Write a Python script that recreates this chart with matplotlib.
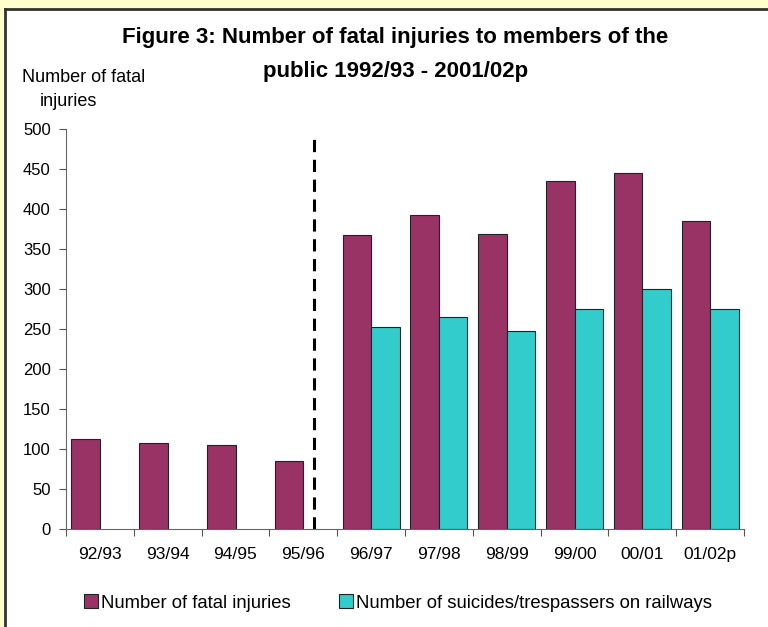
import numpy as np
import matplotlib.pyplot as plt

# Data.
years = ["92/93", "93/94", "94/95", "95/96", "96/97", "97/98", "98/99", "99/00", "00/01", "01/02p"]
fatal_injuries = [112, 107, 105, 85, 367, 392, 369, 435, 445, 385]
rail_suicides = [np.nan, np.nan, np.nan, np.nan, 252, 265, 247, 275, 300, 275]

MAGENTA = "#993366"
CYAN = "#33CCCC"
plt.rcParams['font.family'] = ['Liberation Sans', 'DejaVu Sans']

W, H = 768.0, 627.0
fig = plt.figure(figsize=(W / 100, H / 100), dpi=100)
fig.patch.set_facecolor("#FFFFCC")

# White panel with dark left/top border.
bg = fig.add_axes([5 / W, 0, 1 - 5 / W, 1 - 9 / H], zorder=-1)
bg.set_facecolor("white")
bg.set_xticks([])
bg.set_yticks([])
for side in ["right", "bottom"]:
    bg.spines[side].set_visible(False)
for side in ["left", "top"]:
    bg.spines[side].set_color("#333333")
    bg.spines[side].set_linewidth(2)

ax = fig.add_axes([66 / W, 1 - 529 / H, (744 - 66) / W, 400 / H], zorder=1)
ax.set_facecolor("none")

x = np.arange(len(years))
width = 0.42
ax.bar(x - width / 2, fatal_injuries, width, color=MAGENTA, edgecolor="#222222", linewidth=0.8,
       label="Number of fatal injuries")
ax.bar(x + width / 2, rail_suicides, width, color=CYAN, edgecolor="#222222", linewidth=0.8,
       label="Number of suicides/trespassers on railways")

# Dashed separator between the two periods.
ax.plot([3.16, 3.16], [0, 489], color="black", linestyle=(0, (4, 2.5)), linewidth=2.2, clip_on=False)

ax.set_xlim(-0.5, len(years) - 0.5)
ax.set_ylim(0, 500)
ax.set_yticks(range(0, 501, 50))
ax.set_xticks(np.arange(-0.5, len(years), 1.0))
ax.set_xticklabels([])
ax.set_xticks(x, minor=True)
ax.set_xticklabels(years, minor=True)
ax.tick_params(axis="x", which="minor", length=0, pad=13, labelsize=12.5)
ax.tick_params(axis="x", which="major", length=5, direction="out", color="#555555")
ax.tick_params(axis="y", length=5, direction="out", labelsize=12, pad=6, color="#555555")

for side in ["top", "right"]:
    ax.spines[side].set_visible(False)
ax.spines["left"].set_color("#666666")
ax.spines["bottom"].set_color("#666666")

fig.text(395 / W, 1 - 37 / H, "Figure 3: Number of fatal injuries to members of the",
         ha="center", va="center", fontsize=16, fontweight="bold")
fig.text(396 / W, 1 - 72 / H, "public 1992/93 - 2001/02p",
         ha="center", va="center", fontsize=16, fontweight="bold")
fig.text(22 / W, 1 - 78 / H, "Number of fatal", ha="left", va="center", fontsize=13)
fig.text(40 / W, 1 - 102 / H, "injuries", ha="left", va="center", fontsize=13)

fig.legend(loc="center", bbox_to_anchor=(398 / W, 1 - 603 / H), ncol=2, frameon=False,
           fontsize=13.3, handlelength=0.75, handleheight=0.75, handletextpad=0.15, columnspacing=2.6)

fig.savefig("out.png", dpi=100, facecolor=fig.get_facecolor())
